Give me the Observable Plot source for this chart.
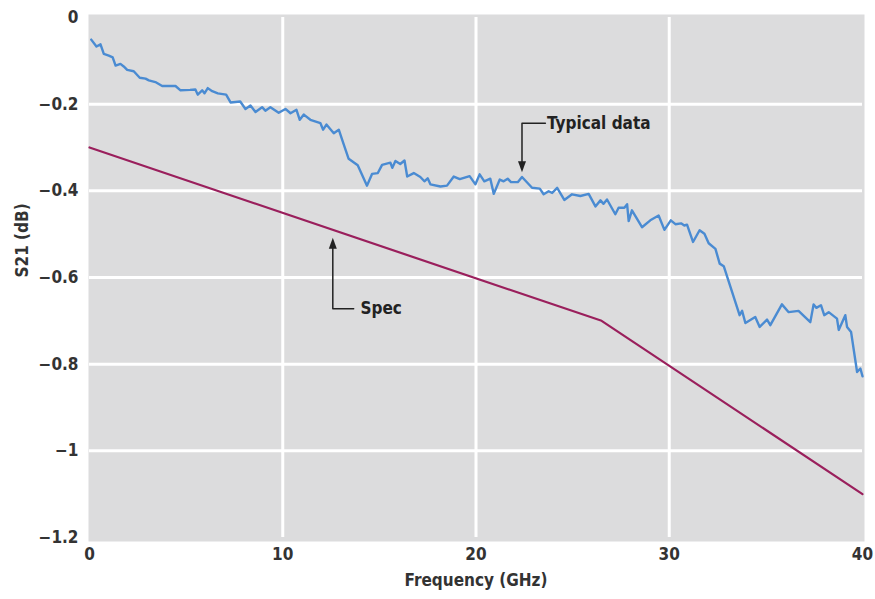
<!DOCTYPE html>
<html>
<head>
<meta charset="utf-8">
<script src="https://cdn.jsdelivr.net/npm/d3@7"></script>
<script src="https://cdn.jsdelivr.net/npm/@observablehq/plot@0.6"></script>
<style>
  html, body { margin: 0; padding: 0; background: #fff; }
  #chart svg { display: block; }
</style>
</head>
<body>
<div id="chart"></div>
<script>
// Typical measured data: frequency (GHz) and S21 (dB)
const typicalFreq = [0.09,0.36,0.57,0.74,1.0,1.2,1.35,1.6,1.77,1.95,2.29,2.6,2.9,3.07,3.41,3.76,4.45,4.71,5.2,5.48,5.6,5.83,5.95,6.12,6.35,6.64,7.07,7.3,7.8,8.07,8.33,8.59,8.93,9.1,9.36,
  9.79,10.14,10.4,10.71,10.88,11.09,11.43,11.95,12.09,12.26,12.64,12.9,13.12,13.41,13.88,14.36,14.62,14.92,15.14,15.57,15.67,15.83,16.08,16.3,16.44,16.78,17.12,17.33,17.5,17.64,18.16,18.5,18.85,19.16,
  19.67,19.97,20.19,20.43,20.74,20.92,21.23,21.43,21.64,21.81,22.16,22.38,22.9,23.3,23.5,23.76,23.94,24.2,24.57,24.97,25.4,25.83,26.18,26.44,26.6,26.78,27.21,27.38,27.68,27.82,27.9,28.07,28.59,29.02,29.45,29.75,30.08,30.32,30.61,30.78,30.92,
  31.23,31.57,31.82,32.04,32.39,32.61,32.82,33.64,33.77,33.94,34.45,34.68,35.06,35.23,35.83,36.18,36.69,37.3,37.47,37.61,37.85,38.02,38.25,38.68,38.77,39.11,39.2,39.41,39.72,39.89,40.0];
const typicalS21 = [-0.051,-0.067,-0.062,-0.084,-0.088,-0.092,-0.111,-0.107,-0.113,-0.121,-0.124,-0.139,-0.141,-0.145,-0.149,-0.158,-0.158,-0.168,-0.167,-0.166,-0.178,-0.168,-0.175,-0.163,-0.17,-0.175,-0.178,-0.196,-0.194,-0.211,-0.203,-0.218,-0.207,-0.215,-0.207,
  -0.220,-0.211,-0.221,-0.213,-0.236,-0.224,-0.236,-0.244,-0.259,-0.247,-0.267,-0.259,-0.288,-0.326,-0.341,-0.388,-0.361,-0.359,-0.340,-0.335,-0.347,-0.331,-0.338,-0.330,-0.367,-0.359,-0.368,-0.378,-0.371,-0.385,-0.390,-0.388,-0.367,-0.373,
  -0.366,-0.385,-0.362,-0.378,-0.372,-0.407,-0.374,-0.378,-0.372,-0.380,-0.380,-0.368,-0.393,-0.395,-0.408,-0.401,-0.405,-0.393,-0.421,-0.408,-0.412,-0.407,-0.436,-0.422,-0.430,-0.420,-0.454,-0.439,-0.439,-0.431,-0.470,-0.445,-0.484,-0.468,-0.457,-0.490,-0.468,-0.477,-0.475,-0.480,-0.478,
  -0.518,-0.491,-0.499,-0.521,-0.534,-0.568,-0.574,-0.687,-0.677,-0.705,-0.691,-0.714,-0.697,-0.710,-0.662,-0.680,-0.677,-0.703,-0.662,-0.670,-0.664,-0.687,-0.680,-0.695,-0.721,-0.687,-0.714,-0.726,-0.818,-0.810,-0.828];

// Spec limit line
const specFreq = [0, 26.5, 40];
const specS21 = [-0.3, -0.7, -1.1];

// Axis ticks and labels
const xTicks = [0, 10, 20, 30, 40];
const yTicks = [0, -0.2, -0.4, -0.6, -0.8, -1, -1.2];
const xGrid = [10, 20, 30];
const yGrid = [-0.2, -0.4, -0.6, -0.8, -1];
const xLabel = "Frequency (GHz)";
const yLabel = "S21 (dB)";

// Annotations
const annoLabels = ["Typical data", "Spec"];
const annoTextX = [23.68, 14.02];
const annoTextY = [-0.244, -0.672];
const annoPathX = [[23.59, 22.38, 22.38], [13.67, 12.59, 12.59]];
const annoPathY = [[-0.244, -0.244, -0.345], [-0.672, -0.672, -0.52]];
const annoTipX = [22.38, 12.59];
const annoTipY = [-0.357, -0.508];
const annoTipDir = ["down", "up"];

const typical = typicalFreq.map((f, i) => ({f, v: typicalS21[i]}));
const spec = specFreq.map((f, i) => ({f, v: specS21[i]}));
const annoPaths = annoPathX.flatMap((xs, k) => xs.map((x, j) => ({k, x, y: annoPathY[k][j]})));
const annoText = annoLabels.map((t, i) => ({t, x: annoTextX[i], y: annoTextY[i]}));
const tips = annoTipX.map((x, i) => ({x, y: annoTipY[i], dir: annoTipDir[i]}));

const arrowDown = {draw(ctx) { ctx.moveTo(0, 0); ctx.lineTo(-4, -11); ctx.lineTo(4, -11); ctx.closePath(); }};
const arrowUp = {draw(ctx) { ctx.moveTo(0, 0); ctx.lineTo(-4, 11); ctx.lineTo(4, 11); ctx.closePath(); }};

const font = "'Liberation Sans Narrow', 'DejaVu Sans Condensed', 'Arial Narrow', sans-serif";
const textColor = "#333";

const chart = Plot.plot({
  width: 875,
  height: 599,
  marginLeft: 89,
  marginRight: 13,
  marginTop: 17,
  marginBottom: 62,
  style: {fontFamily: font, fontWeight: "bold", fontSize: "17px", color: textColor, background: "#fff", fontStretch: "condensed"},
  x: {domain: [0, 40]},
  y: {domain: [-1.2, 0]},
  marks: [
    Plot.frame({fill: "#dcdcdd", stroke: null, insetTop: -3, insetBottom: -4, insetLeft: -1, insetRight: -2}),
    Plot.ruleY(yGrid, {stroke: "#fff", strokeWidth: 3}),
    Plot.ruleX(xGrid, {stroke: "#fff", strokeWidth: 3}),
    Plot.axisX({ticks: xTicks, tickSize: 0, tickPadding: 10, tickFormat: d => String(d), label: null, fontSize: 17}),
    Plot.axisY({ticks: yTicks, tickSize: 0, tickPadding: 11,
      tickFormat: d => d === 0 ? "0" : "\u2212" + Math.abs(d), label: null, fontSize: 17}),
    Plot.text([xLabel], {frameAnchor: "bottom", dy: 48, text: d => d, fontSize: 17, fontWeight: "bold", fill: textColor}),
    Plot.text([yLabel], {frameAnchor: "left", dx: -67, rotate: -90, text: d => d, fontSize: 17, fontWeight: "bold", fill: textColor}),
    Plot.line(spec, {x: "f", y: "v", stroke: "#9a1f5c", strokeWidth: 2.2}),
    Plot.line(typical, {x: "f", y: "v", stroke: "#4a8bd2", strokeWidth: 2.4, strokeLinejoin: "round"}),
    Plot.line(annoPaths, {x: "x", y: "y", z: "k", stroke: "#222", strokeWidth: 1.5}),
    Plot.dot(tips.filter(d => d.dir === "down"), {x: "x", y: "y", symbol: arrowDown, fill: "#222", stroke: null}),
    Plot.dot(tips.filter(d => d.dir === "up"), {x: "x", y: "y", symbol: arrowUp, fill: "#222", stroke: null}),
    Plot.text(annoText, {x: "x", y: "y", text: "t", textAnchor: "start", fill: "#222", fontSize: 17, fontWeight: "bold"})
  ]
});
document.getElementById("chart").appendChild(chart);
</script>
</body>
</html>
